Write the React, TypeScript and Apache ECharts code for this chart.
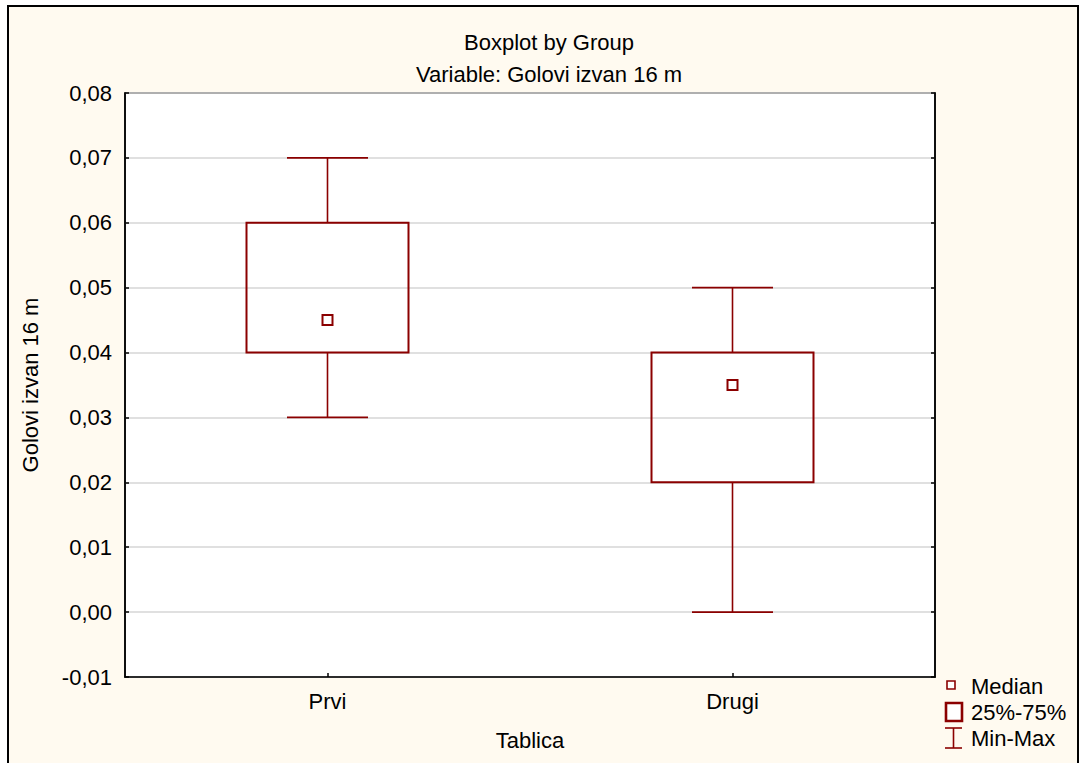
import React, { useEffect, useRef } from "react";
import * as echarts from "echarts";

const categories = ["Prvi", "Drugi"];
const mins = [0.03, 0.0];
const q1s = [0.04, 0.02];
const medians = [0.045, 0.035];
const q3s = [0.06, 0.04];
const maxs = [0.07, 0.05];

const yMin = -0.01;
const yMax = 0.08;
const yStep = 0.01;

const titleLines = ["Boxplot by Group", "Variable: Golovi izvan 16 m"];
const xName = "Tablica";
const yName = "Golovi izvan 16 m";
const legendLabels = ["Median", "25%-75%", "Min-Max"];

const RED = "#8B0000";
const FONT = "'Liberation Sans', Arial, sans-serif";
const FS = 22;

export default function App() {
  const ref = useRef<HTMLDivElement>(null);

  useEffect(() => {
    if (!ref.current) return;
    const chart = echarts.init(ref.current, undefined, { renderer: "svg" });
    const data = categories.map((c, i) => [i, mins[i], q1s[i], medians[i], q3s[i], maxs[i]]);
    const fmt = (v: number) => v.toFixed(2).replace(".", ",");

    chart.setOption({
      animation: false,
      backgroundColor: "#ffffff",
      textStyle: { fontFamily: FONT },
      title: {
        text: titleLines.join("\n"),
        left: 544,
        top: 21,
        textAlign: "center",
        textStyle: { fontFamily: FONT, fontSize: FS, fontWeight: "normal", color: "#000", lineHeight: 32 },
      },
      grid: {
        left: 125,
        top: 93,
        width: 810,
        height: 584,
        show: true,
        backgroundColor: "#ffffff",
        borderColor: "#000",
        borderWidth: 1.5,
      },
      xAxis: {
        type: "category",
        data: categories,
        boundaryGap: true,
        name: xName,
        nameLocation: "middle",
        nameGap: 52,
        nameTextStyle: { fontFamily: FONT, fontSize: FS, color: "#000" },
        axisLine: { show: true, onZero: false, lineStyle: { color: "#000", width: 1.5 } },
        axisTick: { show: true, inside: true, alignWithLabel: true, length: 4, lineStyle: { color: "#000", width: 1.5 } },
        axisLabel: { fontFamily: FONT, fontSize: FS, color: "#000", margin: 13 },
        splitLine: { show: false },
      },
      yAxis: [
        {
          type: "value",
          min: yMin,
          max: yMax,
          interval: yStep,
          name: yName,
          nameLocation: "middle",
          nameGap: 84,
          nameTextStyle: { fontFamily: FONT, fontSize: FS, color: "#000" },
          axisLine: { show: true, onZero: false, lineStyle: { color: "#000", width: 1.5 } },
          axisTick: { show: true, inside: true, length: 4, lineStyle: { color: "#000", width: 1.5 } },
          axisLabel: { fontFamily: FONT, fontSize: FS, color: "#000", margin: 13, formatter: fmt },
          splitLine: { show: true, lineStyle: { color: "#d6d6d6", width: 1.5 } },
        },
        {
          type: "value",
          min: yMin,
          max: yMax,
          interval: yStep,
          position: "right",
          axisLine: { show: true, onZero: false, lineStyle: { color: "#000", width: 1.5 } },
          axisTick: { show: true, inside: true, length: 4, lineStyle: { color: "#000", width: 1.5 } },
          axisLabel: { show: false },
          splitLine: { show: false },
        },
      ],
      series: [
        {
          type: "custom",
          name: "Boxplot",
          data,
          encode: { x: 0, y: [1, 2, 3, 4, 5] },
          z: 5,
          renderItem: (params: any, api: any) => {
            const idx = api.value(0);
            const band = api.size([1, 0])[0];
            const pMin = api.coord([idx, api.value(1)]);
            const pQ1 = api.coord([idx, api.value(2)]);
            const pMed = api.coord([idx, api.value(3)]);
            const pQ3 = api.coord([idx, api.value(4)]);
            const pMax = api.coord([idx, api.value(5)]);
            const x = pMin[0];
            const hb = band * 0.2;
            const hc = band * 0.1;
            const ws = { stroke: RED, lineWidth: 1.6, fill: null };
            const ms = 10;
            return {
              type: "group",
              children: [
                { type: "line", shape: { x1: x, y1: pMin[1], x2: x, y2: pQ1[1] }, style: ws },
                { type: "line", shape: { x1: x, y1: pQ3[1], x2: x, y2: pMax[1] }, style: ws },
                { type: "line", shape: { x1: x - hc, y1: pMin[1], x2: x + hc, y2: pMin[1] }, style: { ...ws, lineWidth: 1.8 } },
                { type: "line", shape: { x1: x - hc, y1: pMax[1], x2: x + hc, y2: pMax[1] }, style: { ...ws, lineWidth: 1.8 } },
                {
                  type: "rect",
                  shape: { x: x - hb, y: pQ3[1], width: hb * 2, height: pQ1[1] - pQ3[1] },
                  style: { stroke: RED, lineWidth: 2, fill: "rgba(0,0,0,0)" },
                },
                {
                  type: "rect",
                  shape: { x: x - ms / 2, y: pMed[1] - ms / 2, width: ms, height: ms },
                  style: { stroke: RED, lineWidth: 2, fill: "#ffffff" },
                },
              ],
            };
          },
        },
      ],
      graphic: {
        elements: [
          {
            type: "rect",
            z: -100,
            silent: true,
            shape: { x: 8, y: 6, width: 1070, height: 800 },
            style: { fill: "#FFFAF0", stroke: "#000", lineWidth: 2 },
          },
          {
            type: "rect",
            z: 100,
            shape: { x: 947, y: 681, width: 8, height: 8 },
            style: { fill: "#ffffff", stroke: RED, lineWidth: 1.6 },
          },
          {
            type: "rect",
            z: 100,
            shape: { x: 946, y: 703, width: 16, height: 18 },
            style: { fill: "#ffffff", stroke: RED, lineWidth: 2.6 },
          },
          { type: "line", z: 100, shape: { x1: 953.5, y1: 728, x2: 953.5, y2: 748 }, style: { stroke: RED, lineWidth: 1.6 } },
          { type: "line", z: 100, shape: { x1: 945, y1: 728, x2: 962, y2: 728 }, style: { stroke: RED, lineWidth: 1.6 } },
          { type: "line", z: 100, shape: { x1: 945, y1: 748, x2: 962, y2: 748 }, style: { stroke: RED, lineWidth: 1.6 } },
          ...legendLabels.map((t, i) => ({
            type: "text",
            z: 100,
            x: 971,
            y: [686, 712, 738][i],
            style: { text: t, font: `${FS}px ${FONT}`, fill: "#000", textVerticalAlign: "middle", verticalAlign: "middle" },
          })),
        ],
      },
    });

    return () => chart.dispose();
  }, []);

  return <div ref={ref} style={{ position: "absolute", left: 0, top: 0, width: 1080, height: 763 }} />;
}
